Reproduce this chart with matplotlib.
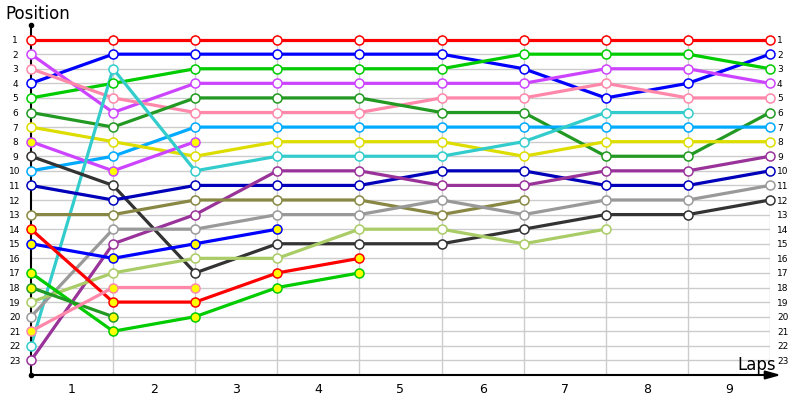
import matplotlib
matplotlib.use("Agg")
import matplotlib.pyplot as plt

# lap chart data: position after each lap boundary (0..9)
red_a = [1, 1, 1, 1, 1, 1, 1, 1, 1, 1]
blue_a = [4, 2, 2, 2, 2, 2, 3, 5, 4, 2]
green_a = [5, 4, 3, 3, 3, 3, 2, 2, 2, 3]
violet_a = [2, 6, 4, 4, 4, 4, 4, 3, 3, 4]
pink_a = [3, 5, 6, 6, 6, 5, 5, 4, 5, 5]
dkgreen_a = [6, 7, 5, 5, 5, 6, 6, 9, 9, 6]
ltblue = [10, 9, 7, 7, 7, 7, 7, 7, 7, 7]
yellow = [7, 8, 9, 8, 8, 8, 9, 8, 8, 8]
violet_b = [8, 10, 8]
cyan = [22, 3, 10, 9, 9, 9, 8, 6, 6]
black = [9, 11, 17, 15, 15, 15, 14, 13, 13, 12]
dkblue = [11, 12, 11, 11, 11, 10, 10, 11, 11, 10]
dkpurple = [23, 15, 13, 10, 10, 11, 11, 10, 10, 9]
olive = [13, 13, 12, 12, 12, 13, 12]
grey = [20, 14, 14, 13, 13, 12, 13, 12, 12, 11]
blue_b = [15, 16, 15, 14]
ltgreen = [19, 17, 16, 16, 14, 14, 15, 14]
red_b = [14, 19, 19, 17, 16]
green_b = [17, 21, 20, 18, 17]
dkgreen_b = [18, 20]
pink_b = [21, 18, 18]

drivers = [
    (red_a, "#FF0000", "white"),
    (blue_a, "#0000FF", "white"),
    (green_a, "#00CC00", "white"),
    (violet_a, "#CC44FF", "white"),
    (pink_a, "#FF88AA", "white"),
    (dkgreen_a, "#229922", "white"),
    (ltblue, "#00AAFF", "white"),
    (yellow, "#DDDD00", "white"),
    (violet_b, "#CC44FF", "#FFFF00"),
    (cyan, "#33CCCC", "white"),
    (black, "#333333", "white"),
    (dkblue, "#0000BB", "white"),
    (dkpurple, "#993399", "white"),
    (olive, "#888844", "white"),
    (grey, "#999999", "white"),
    (blue_b, "#0000FF", "#FFFF00"),
    (ltgreen, "#AACC66", "white"),
    (red_b, "#FF0000", "#FFFF00"),
    (green_b, "#00CC00", "#FFFF00"),
    (dkgreen_b, "#229922", "#FFFF00"),
    (pink_b, "#FF88AA", "#FFFF00"),
]

laps = 9
positions = list(range(1, 24))

fig = plt.figure(figsize=(8, 4), dpi=100)
ax = fig.add_axes([31 / 800, 25 / 400, (770 - 31) / 800, 350 / 400])
ax.set_xlim(0, laps)
ax.set_ylim(24, 0)

# grid
ax.hlines(positions, 0, laps, color="#CCCCCC", lw=1, zorder=1)
ax.vlines(range(1, laps + 1), 24, 0.65, color="#CCCCCC", lw=1, zorder=1)

for pos, col, fill in drivers:
    x = list(range(len(pos)))
    ax.plot(x, pos, color=col, lw=2.3, zorder=2, clip_on=False,
            solid_capstyle="butt")
for pos, col, fill in drivers:
    x = list(range(len(pos)))
    ax.plot(x, pos, ls="none", marker="o", ms=6.5, mfc=fill, mec=col,
            mew=1.1, zorder=3, clip_on=False)

for s in ["top", "right", "bottom"]:
    ax.spines[s].set_visible(False)
ax.spines["left"].set_color("black")
ax.spines["left"].set_linewidth(1.5)
ax.plot([0, 0], [0, 24], ls="none", marker="o", ms=3, color="black",
        clip_on=False, zorder=5)
ax.annotate("", xy=(1.015, 0), xytext=(0, 0), xycoords="axes fraction",
            arrowprops=dict(arrowstyle="-|>,head_length=0.9,head_width=0.25",
                            color="black", lw=1.5, shrinkA=0, shrinkB=0),
            annotation_clip=False)

ax.set_yticks(positions)
ax.set_yticklabels([str(p) for p in positions], fontsize=6.5)
for lab in ax.get_yticklabels():
    lab.set_horizontalalignment("center")
ax.tick_params(axis="y", length=0, pad=11.5)

ax.set_xticks(range(1, laps + 1))
ax.set_xticklabels([])
ax.set_xticks([i + 0.5 for i in range(laps)], minor=True)
ax.set_xticklabels([str(i + 1) for i in range(laps)], minor=True, fontsize=9)
ax.tick_params(axis="x", which="both", length=0, pad=6)

ax2 = ax.twinx()
ax2.set_ylim(24, 0)
ax2.set_yticks(positions)
ax2.set_yticklabels([str(p) for p in positions], fontsize=6.5)
ax2.tick_params(axis="y", length=0, pad=5)
for s in ax2.spines.values():
    s.set_visible(False)

fig.text(5 / 800, 1 - 14 / 400, "Position", fontsize=12, va="center", ha="left")
fig.text(757 / 800, 1 - 365 / 400, "Laps", fontsize=12, va="center", ha="center")

fig.savefig("out.png", dpi=100)
